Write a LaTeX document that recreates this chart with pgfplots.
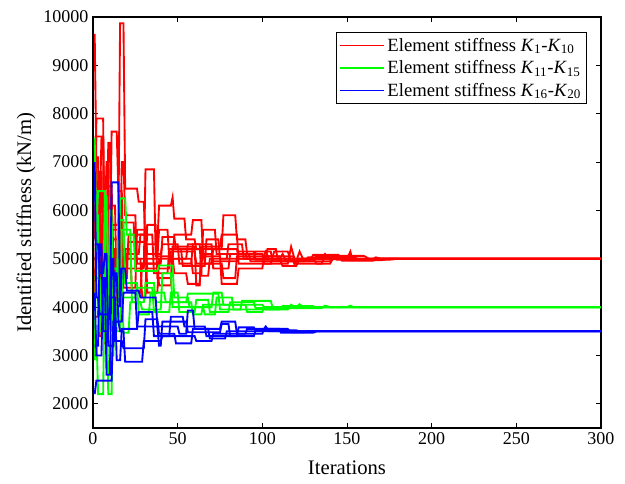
\documentclass[border=0pt]{standalone}
\usepackage{pgfplots}
\pgfplotsset{compat=1.18}
\usepackage{fontspec}
\setmainfont{Liberation Serif}
\begin{document}
\begin{tikzpicture}
\path[use as bounding box] (-69.75pt,-41.25pt) rectangle (399pt,321pt);
\begin{axis}[
  at={(0,0)}, anchor=south west,
  width=381pt, height=308.25pt, scale only axis,
  xmin=0, xmax=300, ymin=1500, ymax=10000,
  xtick={0,50,...,300}, ytick={2000,3000,...,10000},
  scaled y ticks=false, scaled x ticks=false,
  /pgf/number format/assume math mode=true,
  /pgf/number format/set thousands separator={},
  tick label style={font=\rmfamily\fontsize{13.5}{15}\selectfont},
  label style={font=\rmfamily\fontsize{15.5}{18}\selectfont},
  xlabel={Iterations}, ylabel={Identified stiffness (kN/m)},
  xlabel style={yshift=-5pt},
  ylabel style={yshift=-1pt},
  tick align=inside, major tick length=4pt,
  axis line style={line width=0.8pt},
  every tick/.style={black, line width=0.6pt},
  legend style={at={(0.972,0.963)}, anchor=north east, draw=black, line width=0.6pt,
    font=\rmfamily\fontsize{14}{16}\selectfont, row sep=1.5pt, inner sep=2pt},
  legend cell align=left,
  legend image code/.code={\draw[#1, line width=1.4pt] (0pt,0pt) -- (33pt,0pt);},
  every axis plot/.append style={line width=1.4pt, sharp plot},
]
% ---------------- red ----------------
\addplot[red, line width=1.4pt] coordinates {(1,9650)(2,7000)(3,5500)(6,5500)(7,4300)(12,4300)(13,5200)(19,5200)(20,4800)(30,4800)(31,6850)(36,6850)(37,5050)(47,5050)(48,4700)(55,4700)(56,4480)(63,4480)(64,5100)(70,5100)(71,4950)(85,4950)(86,5150)(95,5150)(96,4980)(110,4980)(112,5100)(114,4950)(125,4950)(127,5030)(140,5030)(142,4990)(160,4990)(170,5005)(185,5000)(300,5000)};
\addlegendentry{Element stiffness \textit{K}\textsubscript{1}-\textit{K}\textsubscript{10}}
\addplot[red, forget plot] coordinates {(1,5400)(2,7900)(6,7900)(7,3250)(8,3250)(9,5700)(15,5700)(16,9870)(18,9870)(19,6450)(26,6450)(27,6180)(30,6180)(31,5300)(38,5300)(39,6100)(46,6100)(47,6270)(48,5830)(54,5830)(55,5400)(60,5400)(61,5200)(76,5200)(77,5900)(84,5900)(85,5400)(90,5400)(91,5100)(100,5100)(101,4900)(115,4900)(117,5250)(119,5000)(130,5000)(132,4900)(140,4900)(142,5020)(155,5020)(157,4980)(175,4980)(180,5000)(300,5000)};
\addplot[red, forget plot] coordinates {(1,7530)(6,7530)(7,5000)(10,5000)(11,7630)(14,7630)(15,6400)(17,6400)(18,4400)(25,4400)(26,5600)(31,5600)(32,4300)(38,4300)(39,5000)(47,5000)(48,5500)(58,5500)(59,5800)(64,5800)(65,5050)(75,5050)(76,4480)(85,4480)(86,4800)(100,4800)(101,5050)(118,5050)(120,4900)(135,4900)(137,5050)(150,5050)(152,4970)(170,4970)(175,5000)(300,5000)};
\addplot[red, forget plot] coordinates {(1,7100)(3,7100)(4,3400)(8,3400)(9,7400)(10,7400)(11,4900)(16,4900)(17,7000)(18,7000)(19,5900)(25,5900)(26,4900)(38,4900)(39,4450)(46,4450)(47,5250)(60,5250)(61,4450)(63,4450)(64,5250)(75,5250)(76,5500)(85,5500)(86,4900)(105,4900)(107,5150)(115,5150)(117,4950)(128,4950)(130,5080)(145,5080)(147,4960)(165,4960)(170,5000)(300,5000)};
\addplot[red, forget plot] coordinates {(1,4300)(2,6000)(4,6000)(5,7500)(6,7500)(7,4700)(10,4700)(11,5600)(15,5600)(16,4600)(20,4600)(21,5500)(31,5500)(32,5100)(40,5100)(41,5300)(50,5300)(51,4900)(58,4900)(59,5300)(70,5300)(71,4800)(80,4800)(81,5100)(92,5100)(93,4950)(120,4950)(122,5150)(124,5000)(150,5000)(152,5150)(153,5000)(300,5000)};
\addplot[red, forget plot] coordinates {(1,5000)(3,5000)(4,6800)(5,6800)(6,4800)(9,4800)(10,6100)(13,6100)(14,4200)(17,4200)(18,5000)(28,5000)(29,4200)(31,4200)(32,5700)(37,5700)(38,4600)(46,4600)(47,5000)(55,5000)(56,5300)(63,5300)(64,4650)(68,4650)(69,5000)(79,5000)(80,5300)(88,5300)(89,5000)(110,5000)(112,4850)(120,4850)(122,5000)(300,5000)};
\addplot[red, forget plot] coordinates {(1,6200)(4,6200)(5,4000)(9,4000)(10,5400)(16,5400)(17,5750)(24,5750)(25,5000)(38,5000)(39,5600)(44,5600)(45,5000)(58,5000)(59,4700)(64,4700)(65,5600)(72,5600)(73,5100)(90,5100)(91,5000)(102,5000)(103,5200)(108,5200)(109,5000)(135,5000)(137,5100)(139,5000)(300,5000)};
\addplot[red, forget plot] coordinates {(1,3800)(3,3800)(4,5700)(7,5700)(8,7000)(9,7000)(10,4000)(14,4000)(15,5200)(22,5200)(23,4300)(28,4300)(29,4900)(40,4900)(41,5450)(48,5450)(49,5200)(65,5200)(66,4900)(76,4900)(77,4600)(84,4600)(85,5050)(110,5050)(111,4950)(140,4950)(142,5050)(144,4980)(165,4980)(167,5030)(170,5000)(300,5000)};
\addplot[red, forget plot] coordinates {(1,5700)(5,5700)(6,4500)(8,4500)(9,6500)(11,6500)(12,5000)(20,5000)(21,5350)(31,5350)(32,4800)(45,4800)(46,5150)(60,5150)(61,4900)(70,4900)(71,5200)(85,5200)(86,5000)(100,5000)(102,5150)(104,5000)(118,5000)(119,4880)(121,5000)(300,5000)};
\addplot[red, forget plot] coordinates {(1,4800)(2,4800)(3,6500)(4,6500)(5,5200)(12,5200)(13,4600)(18,4600)(19,5100)(27,5100)(28,5500)(35,5500)(36,4700)(44,4700)(45,5200)(52,5200)(53,4850)(66,4850)(67,5400)(74,5400)(75,5000)(95,5000)(96,5150)(105,5150)(106,4950)(130,4950)(132,5060)(160,5060)(163,5000)(300,5000)};
% ---------------- green ----------------
\addplot[green, line width=1.4pt] coordinates {(1,7500)(2,5500)(3,6400)(7,6400)(8,3000)(12,3000)(13,4100)(15,4100)(16,6250)(19,6250)(20,5500)(24,5500)(25,4750)(38,4750)(39,4860)(47,4860)(48,4200)(56,4200)(57,4000)(70,4000)(71,4300)(76,4300)(77,4050)(100,4050)(102,3950)(110,3950)(112,4020)(130,4020)(131,4000)(300,4000)};
\addlegendentry{Element stiffness \textit{K}\textsubscript{11}-\textit{K}\textsubscript{15}}
\addplot[green, forget plot] coordinates {(1,3500)(2,3500)(3,2200)(6,2200)(7,5000)(8,5000)(9,2200)(11,2200)(12,4800)(17,4800)(18,3470)(21,3470)(22,4100)(30,4100)(31,4500)(36,4500)(37,4100)(55,4100)(56,4280)(74,4280)(75,3950)(87,3950)(88,4130)(105,4130)(106,4000)(120,4000)(122,4060)(124,4000)(300,4000)};
\addplot[green, forget plot] coordinates {(1,4600)(4,4600)(5,3600)(9,3600)(10,6000)(11,6000)(12,3800)(16,3800)(17,4200)(25,4200)(26,4400)(35,4400)(36,3900)(45,3900)(46,4300)(50,4300)(51,3900)(60,3900)(61,4150)(68,4150)(69,3900)(80,3900)(81,4100)(95,4100)(96,3980)(135,3980)(137,4030)(140,4000)(300,4000)};
\addplot[green, forget plot] coordinates {(1,2900)(2,5900)(3,5900)(4,3500)(7,3500)(8,4500)(13,4500)(14,3500)(16,3500)(17,5600)(22,5600)(23,4100)(28,4100)(29,3950)(40,3950)(41,4700)(46,4700)(47,4000)(65,4000)(66,3850)(72,3850)(73,4200)(82,4200)(83,3950)(115,3950)(117,4050)(119,4000)(300,4000)};
\addplot[green, forget plot] coordinates {(1,5200)(3,5200)(4,4000)(6,4000)(7,6300)(8,6300)(9,4400)(14,4400)(15,5800)(18,5800)(19,4500)(26,4500)(27,3850)(33,3850)(34,4300)(42,4300)(43,4100)(58,4100)(59,3850)(64,3850)(65,4050)(90,4050)(91,3900)(100,3900)(101,4000)(150,4000)(152,4030)(154,4000)(300,4000)};
% ---------------- blue ----------------
\addplot[blue, line width=1.4pt] coordinates {(1,7000)(2,4200)(3,4200)(4,3850)(10,3850)(11,6580)(15,6580)(16,4000)(17,4800)(19,4800)(20,4340)(27,4340)(28,4200)(37,4200)(38,3600)(50,3600)(51,3450)(55,3450)(56,3930)(59,3930)(60,3550)(75,3550)(76,3700)(84,3700)(85,3450)(100,3450)(101,3550)(115,3550)(117,3480)(125,3480)(127,3500)(300,3500)};
\addlegendentry{Element stiffness \textit{K}\textsubscript{16}-\textit{K}\textsubscript{20}}
\addplot[blue, forget plot] coordinates {(1,2200)(2,2480)(11,2480)(12,3700)(15,3700)(16,3500)(18,3500)(19,2870)(29,2870)(30,3300)(40,3300)(41,3400)(60,3400)(61,3300)(70,3300)(71,3450)(90,3450)(91,3550)(110,3550)(111,3470)(130,3470)(132,3500)(300,3500)};
\addplot[blue, forget plot] coordinates {(1,5300)(3,5300)(4,4700)(6,4700)(7,5100)(8,5100)(9,3200)(12,3200)(13,4700)(14,4700)(15,3700)(17,3700)(18,4300)(25,4300)(26,3600)(38,3600)(39,3200)(40,3200)(41,3700)(55,3700)(56,3480)(75,3480)(76,3650)(80,3650)(81,3400)(95,3400)(96,3520)(120,3520)(122,3500)(300,3500)};
\addplot[blue, forget plot] coordinates {(1,4300)(2,3000)(5,3000)(6,4600)(7,4600)(8,2600)(10,2600)(11,5000)(12,5000)(13,3300)(17,3300)(18,3150)(30,3150)(31,3750)(38,3750)(39,3450)(48,3450)(49,3250)(58,3250)(59,3550)(68,3550)(69,3350)(78,3350)(79,3500)(100,3500)(102,3600)(104,3500)(300,3500)};
\addplot[blue, forget plot] coordinates {(1,3200)(3,3200)(4,5300)(5,5300)(6,3500)(9,3500)(10,4200)(13,4200)(14,2900)(16,2900)(17,3550)(26,3550)(27,3900)(35,3900)(36,3400)(45,3400)(46,3800)(53,3800)(54,3600)(66,3600)(67,3400)(85,3400)(86,3580)(95,3580)(96,3500)(300,3500)};
\end{axis}
\end{tikzpicture}
\end{document}
